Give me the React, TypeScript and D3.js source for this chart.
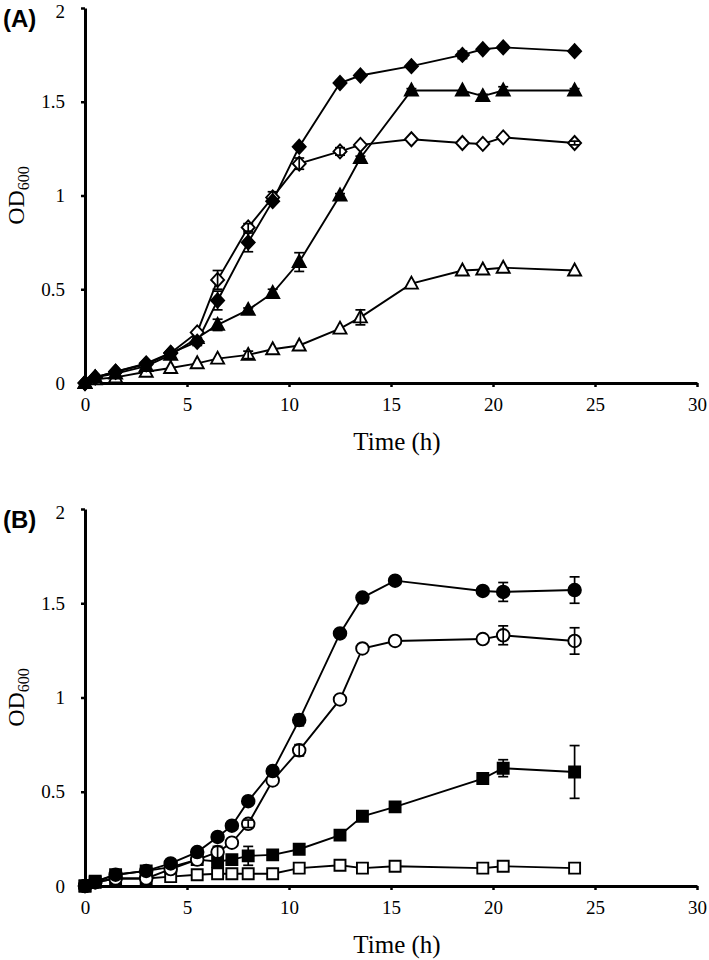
import * as d3 from "d3";
import { useEffect, useRef } from "react";

// sampling times (h)
const timesA = [0, 0.5, 1.5, 3, 4.2, 5.5, 6.5, 8, 9.2, 10.5, 12.5, 13.5, 16, 18.5, 19.5, 20.5, 24];
const timesB = [0, 0.5, 1.5, 3, 4.2, 5.5, 6.5, 7.2, 8, 9.2, 10.5, 12.5, 13.6, 15.2, 19.5, 20.5, 24];

// panel A
const filledDiamond = [0, 0.03, 0.06, 0.105, 0.16, 0.22, 0.44, 0.75, 0.97, 1.26, 1.6, 1.64, 1.69, 1.75, 1.78, 1.79, 1.77];
const filledDiamondErr = [0, 0, 0, 0, 0, 0.02, 0.05, 0.05, 0, 0, 0.01, 0, 0, 0.02, 0.01, 0, 0];
const openDiamond = [0, 0.03, 0.06, 0.1, 0.16, 0.27, 0.55, 0.83, 0.99, 1.17, 1.235, 1.27, 1.3, 1.28, 1.275, 1.31, 1.28];
const openDiamondErr = [0, 0, 0, 0, 0, 0, 0.05, 0.02, 0.03, 0.03, 0.02, 0, 0, 0, 0, 0, 0.01];
const filledTriangle = [0, 0.03, 0.05, 0.09, 0.15, 0.24, 0.31, 0.39, 0.48, 0.645, 1.0, 1.2, 1.56, 1.56, 1.53, 1.56, 1.56];
const filledTriangleErr = [0, 0, 0, 0, 0, 0, 0.03, 0.01, 0.02, 0.05, 0.01, 0.01, 0.01, 0, 0.01, 0.02, 0.01];
const openTriangle = [0, 0.02, 0.03, 0.06, 0.08, 0.105, 0.13, 0.15, 0.18, 0.2, 0.29, 0.35, 0.53, 0.6, 0.605, 0.615, 0.6];
const openTriangleErr = [0, 0, 0, 0, 0, 0, 0, 0.02, 0, 0, 0, 0.04, 0, 0, 0, 0, 0];

// panel B
const filledCircle = [0, 0.02, 0.06, 0.08, 0.12, 0.18, 0.26, 0.32, 0.45, 0.61, 0.88, 1.34, 1.53, 1.62, 1.565, 1.56, 1.57];
const filledCircleErr = [0, 0, 0, 0, 0, 0, 0, 0, 0, 0, 0.03, 0, 0, 0, 0, 0.05, 0.07];
const openCircle = [0, 0.02, 0.04, 0.04, 0.09, 0.14, 0.18, 0.23, 0.33, 0.56, 0.72, 0.99, 1.26, 1.3, 1.31, 1.33, 1.3];
const openCircleErr = [0, 0, 0, 0, 0, 0, 0.03, 0, 0.02, 0, 0.03, 0, 0, 0, 0, 0.05, 0.07];
const filledSquare = [0, 0.025, 0.06, 0.08, 0.1, 0.14, 0.13, 0.14, 0.16, 0.165, 0.195, 0.27, 0.37, 0.42, 0.57, 0.625, 0.605];
const filledSquareErr = [0, 0, 0, 0, 0, 0, 0, 0, 0.05, 0, 0, 0, 0, 0, 0, 0.045, 0.14];
const openSquare = [0, 0.02, 0.04, 0.04, 0.05, 0.06, 0.065, 0.065, 0.065, 0.065, 0.095, 0.11, 0.095, 0.105, 0.095, 0.105, 0.095];
const openSquareErr = [0, 0, 0, 0, 0, 0, 0, 0, 0, 0, 0, 0, 0, 0, 0, 0, 0];

const xTicks = [0, 5, 10, 15, 20, 25, 30];
const yTicks = [0, 0.5, 1, 1.5, 2];

const serif = "'Liberation Serif', 'Times New Roman', serif";

// marker shapes
function markerPath(shape) {
  if (shape == "diamond") return "M0,-7L6.5,0L0,7L-6.5,0Z";
  if (shape == "triangle") return "M0,-7L6.5,5L-6.5,5Z";
  if (shape == "square") return "M-5.5,-5.5H5.5V5.5H-5.5Z";
  return d3.symbol(d3.symbolCircle, Math.PI * 6.3 * 6.3)();
}

const panels = [
  {
    label: "(A)",
    top: 8,
    bottom: 383,
    times: timesA,
    series: [
      { values: openTriangle, err: openTriangleErr, shape: "triangle", filled: false },
      { values: filledTriangle, err: filledTriangleErr, shape: "triangle", filled: true },
      { values: openDiamond, err: openDiamondErr, shape: "diamond", filled: false },
      { values: filledDiamond, err: filledDiamondErr, shape: "diamond", filled: true },
    ],
  },
  {
    label: "(B)",
    top: 509,
    bottom: 886,
    times: timesB,
    series: [
      { values: openSquare, err: openSquareErr, shape: "square", filled: false },
      { values: filledSquare, err: filledSquareErr, shape: "square", filled: true },
      { values: openCircle, err: openCircleErr, shape: "circle", filled: false },
      { values: filledCircle, err: filledCircleErr, shape: "circle", filled: true },
    ],
  },
];

export default function App() {
  const svgRef = useRef();

  useEffect(() => {
    const svg = d3.select(svgRef.current);
    svg.selectAll("*").remove();

    const x = d3.scaleLinear().domain([0, 30]).range([85, 697]);

    panels.forEach((p) => {
      const y = d3.scaleLinear().domain([0, 2]).range([p.bottom, p.top]);
      const g = svg.append("g");

      //axes
      const yAxis = g
        .append("g")
        .attr("transform", "translate(85,0)")
        .call(d3.axisLeft(y).tickValues(yTicks).tickSize(4).tickSizeOuter(0).tickPadding(16).tickFormat(d3.format("")));
      const xAxis = g
        .append("g")
        .attr("transform", `translate(0,${p.bottom})`)
        .call(d3.axisBottom(x).tickValues(xTicks).tickSize(4).tickSizeOuter(0).tickPadding(11));
      [yAxis, xAxis].forEach((a) => {
        a.select(".domain").attr("stroke", "#000").attr("stroke-width", 3);
        a.selectAll(".tick line").attr("stroke", "#000").attr("stroke-width", 2.5);
        a.selectAll(".tick text")
          .attr("fill", "#000")
          .style("font-family", serif)
          .style("font-size", "19px");
      });
      yAxis.selectAll(".tick text").filter((d) => d == 2).attr("dy", "0.5em");

      //axis labels
      g.append("text")
        .attr("x", 397)
        .attr("y", p.bottom + 67)
        .attr("text-anchor", "middle")
        .style("font-family", serif)
        .style("font-size", "25px")
        .text("Time (h)");
      const od = g
        .append("text")
        .attr("transform", `translate(24,${(p.top + p.bottom) / 2}) rotate(-90)`)
        .attr("text-anchor", "middle")
        .style("font-family", serif)
        .style("font-size", "24px");
      od.append("tspan").text("OD");
      od.append("tspan").attr("dy", 5).style("font-size", "16px").text("600");

      g.append("text")
        .attr("x", 3)
        .attr("y", p.top + 19)
        .style("font-family", "'Liberation Sans', Arial, sans-serif")
        .style("font-weight", "bold")
        .style("font-size", "24px")
        .text(p.label);

      //lines
      const line = d3
        .line()
        .x((d) => x(d[0]))
        .y((d) => y(d[1]));
      p.series.forEach((s) => {
        g.append("path")
          .datum(p.times.map((t, i) => [t, s.values[i]]))
          .attr("d", line)
          .attr("fill", "none")
          .attr("stroke", "#000")
          .attr("stroke-width", 1.9);
      });

      //markers
      p.series.forEach((s) => {
        g.selectAll()
          .data(p.times.map((t, i) => [t, s.values[i]]))
          .enter()
          .append("path")
          .attr("d", markerPath(s.shape))
          .attr("transform", (d) => `translate(${x(d[0])},${y(d[1])})`)
          .attr("fill", s.filled ? "#000" : "#fff")
          .attr("stroke", "#000")
          .attr("stroke-width", 1.9);
      });

      //error bars
      p.series.forEach((s) => {
        const eb = p.times
          .map((t, i) => ({ t: t, v: s.values[i], e: s.err[i] }))
          .filter((d) => d.e > 0);
        const eg = g.selectAll().data(eb).enter().append("g");
        eg.append("line")
          .attr("x1", (d) => x(d.t))
          .attr("x2", (d) => x(d.t))
          .attr("y1", (d) => y(d.v - d.e))
          .attr("y2", (d) => y(d.v + d.e));
        eg.append("line")
          .attr("x1", (d) => x(d.t) - 5)
          .attr("x2", (d) => x(d.t) + 5)
          .attr("y1", (d) => y(d.v + d.e))
          .attr("y2", (d) => y(d.v + d.e));
        eg.append("line")
          .attr("x1", (d) => x(d.t) - 5)
          .attr("x2", (d) => x(d.t) + 5)
          .attr("y1", (d) => y(d.v - d.e))
          .attr("y2", (d) => y(d.v - d.e));
        eg.selectAll("line").attr("stroke", "#000").attr("stroke-width", 1.7);
      });
    });
  }, []);

  return (
    <svg
      ref={svgRef}
      width={709}
      height={960}
      style={{ position: "absolute", left: 0, top: 0, background: "#fff" }}
    ></svg>
  );
}
